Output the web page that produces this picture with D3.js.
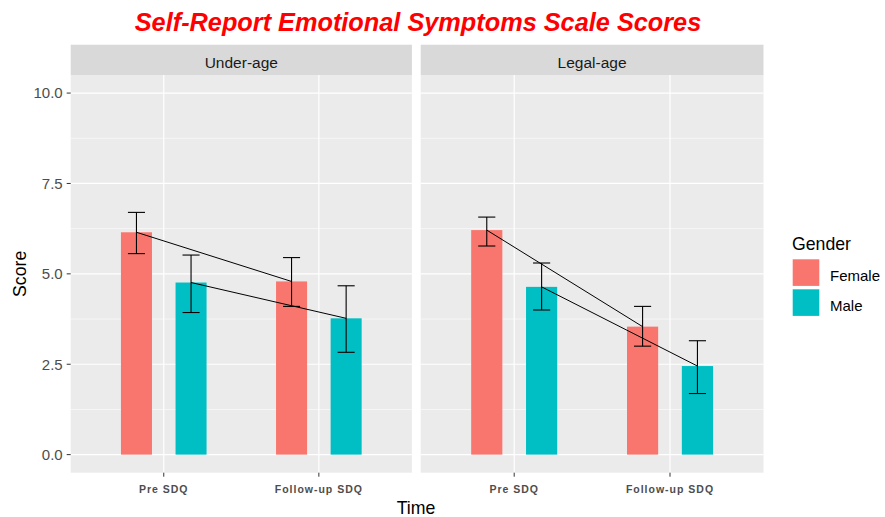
<!DOCTYPE html>
<html>
<head>
<meta charset="utf-8">
<script src="https://cdn.jsdelivr.net/npm/d3@7"></script>
<style>
body { margin: 0; background: #fff; }
svg { display: block; font-family: "Liberation Sans", Arial, sans-serif; }
</style>
</head>
<body>
<svg id="chart" width="885" height="517"></svg>
<script>
// ---- Data ----
const panels = ["Under-age", "Legal-age"];
const times = ["Pre SDQ", "Follow-up SDQ"];
const genders = ["Female", "Male"];
const yTicks = [0, 2.5, 5, 7.5, 10];

const underFemaleMean = [6.15, 4.79];
const underFemaleLow  = [5.56, 4.10];
const underFemaleHigh = [6.70, 5.45];
const underMaleMean   = [4.76, 3.77];
const underMaleLow    = [3.93, 2.83];
const underMaleHigh   = [5.52, 4.67];

const legalFemaleMean = [6.21, 3.54];
const legalFemaleLow  = [5.77, 3.00];
const legalFemaleHigh = [6.57, 4.10];
const legalMaleMean   = [4.64, 2.45];
const legalMaleLow    = [4.00, 1.69];
const legalMaleHigh   = [5.30, 3.15];

const colors = { Female: "#F8766D", Male: "#00BFC4" };

const panelData = {
  "Under-age": {
    Female: { mean: underFemaleMean, low: underFemaleLow, high: underFemaleHigh },
    Male:   { mean: underMaleMean,   low: underMaleLow,   high: underMaleHigh }
  },
  "Legal-age": {
    Female: { mean: legalFemaleMean, low: legalFemaleLow, high: legalFemaleHigh },
    Male:   { mean: legalMaleMean,   low: legalMaleLow,   high: legalMaleHigh }
  }
};

// ---- Layout ----
const svg = d3.select("#chart");
const panelTop = 75, panelBottom = 472.7;
const stripTop = 44.7;
const panelX = [[70.7, 411.9], [420.7, 763.5]];

const y = d3.scaleLinear().domain([-0.5, 10.5]).range([panelBottom, panelTop]);

// title
svg.append("text")
  .attr("x", 418).attr("y", 31)
  .attr("text-anchor", "middle")
  .attr("font-size", 25.3).attr("font-weight", "bold").attr("font-style", "italic")
  .attr("fill", "#FF0000")
  .text("Self-Report Emotional Symptoms Scale Scores");

panels.forEach((p, pi) => {
  const [x0, x1] = panelX[pi];
  const xc = d3.scaleLinear().domain([0.4, 2.6]).range([x0, x1]);
  const dodge = { Female: -0.176, Male: 0.176 };
  const barW = 0.2;
  const capW = 0.11;

  const g = svg.append("g");
  // strip
  g.append("rect").attr("x", x0).attr("y", stripTop)
    .attr("width", x1 - x0).attr("height", panelTop - stripTop)
    .attr("fill", "#D9D9D9");
  g.append("text").attr("x", (x0 + x1) / 2).attr("y", 68)
    .attr("text-anchor", "middle").attr("font-size", 15.5).attr("fill", "#1A1A1A")
    .text(p);
  // background
  g.append("rect").attr("x", x0).attr("y", panelTop)
    .attr("width", x1 - x0).attr("height", panelBottom - panelTop)
    .attr("fill", "#EBEBEB");
  // minor grid
  const minor = [1.25, 3.75, 6.25, 8.75];
  g.selectAll(".minor").data(minor).enter().append("line")
    .attr("x1", x0).attr("x2", x1)
    .attr("y1", d => y(d)).attr("y2", d => y(d))
    .attr("stroke", "#fff").attr("stroke-width", 0.6);
  // major grid
  g.selectAll(".major").data(yTicks).enter().append("line")
    .attr("x1", x0).attr("x2", x1)
    .attr("y1", d => y(d)).attr("y2", d => y(d))
    .attr("stroke", "#fff").attr("stroke-width", 1.2);
  g.selectAll(".vmajor").data(times).enter().append("line")
    .attr("x1", (d, i) => xc(i + 1)).attr("x2", (d, i) => xc(i + 1))
    .attr("y1", panelTop).attr("y2", panelBottom)
    .attr("stroke", "#fff").attr("stroke-width", 1.2);

  // x axis ticks and labels
  times.forEach((t, i) => {
    g.append("line").attr("x1", xc(i + 1)).attr("x2", xc(i + 1))
      .attr("y1", panelBottom).attr("y2", panelBottom + 4)
      .attr("stroke", "#333").attr("stroke-width", 1);
    g.append("text").attr("x", xc(i + 1)).attr("y", panelBottom + 20)
      .attr("text-anchor", "middle").attr("font-size", 10.5).attr("font-weight", "bold")
      .attr("letter-spacing", 1).attr("fill", "#4D4D4D").text(t);
  });

  // bars
  genders.forEach(gen => {
    const d = panelData[p][gen];
    times.forEach((t, i) => {
      const cx = i + 1 + dodge[gen];
      g.append("rect")
        .attr("x", xc(cx - barW / 2)).attr("width", xc(cx + barW / 2) - xc(cx - barW / 2))
        .attr("y", y(d.mean[i])).attr("height", y(0) - y(d.mean[i]))
        .attr("fill", colors[gen]);
    });
  });
  // lines connecting means
  genders.forEach(gen => {
    const d = panelData[p][gen];
    const line = d3.line().x((v, i) => xc(i + 1 + dodge[gen])).y(v => y(v));
    g.append("path").attr("d", line(d.mean))
      .attr("fill", "none").attr("stroke", "#000").attr("stroke-width", 1);
  });
  // error bars
  genders.forEach(gen => {
    const d = panelData[p][gen];
    times.forEach((t, i) => {
      const cx = i + 1 + dodge[gen];
      const eg = g.append("g").attr("stroke", "#000").attr("stroke-width", 1.1);
      eg.append("line").attr("x1", xc(cx)).attr("x2", xc(cx))
        .attr("y1", y(d.low[i])).attr("y2", y(d.high[i]));
      [d.low[i], d.high[i]].forEach(v => {
        eg.append("line").attr("x1", xc(cx - capW / 2)).attr("x2", xc(cx + capW / 2))
          .attr("y1", y(v)).attr("y2", y(v));
      });
    });
  });
});

// y axis (left panel only)
const x0 = panelX[0][0];
yTicks.forEach(v => {
  svg.append("line").attr("x1", x0 - 4).attr("x2", x0)
    .attr("y1", y(v)).attr("y2", y(v))
    .attr("stroke", "#333").attr("stroke-width", 1);
  svg.append("text").attr("x", x0 - 8).attr("y", y(v) + 5.4)
    .attr("text-anchor", "end").attr("font-size", 15).attr("fill", "#4D4D4D")
    .text(d3.format(".1f")(v));
});

// axis titles
svg.append("text").attr("x", 416).attr("y", 514)
  .attr("text-anchor", "middle").attr("font-size", 17.7).attr("fill", "#000").text("Time");
svg.append("text").attr("transform", `translate(26,${(panelTop + panelBottom) / 2}) rotate(-90)`)
  .attr("text-anchor", "middle").attr("font-size", 17.7).attr("fill", "#000").text("Score");

// legend
const lg = svg.append("g");
lg.append("text").attr("x", 792).attr("y", 249.5).attr("font-size", 17.7).attr("fill", "#000").text("Gender");
genders.forEach((gen, i) => {
  lg.append("rect").attr("x", 792.7).attr("y", 259.3 + i * 30)
    .attr("width", 26.6).attr("height", 26.6).attr("fill", colors[gen]);
  lg.append("text").attr("x", 830).attr("y", 259.3 + i * 30 + 21.5)
    .attr("font-size", 15).attr("fill", "#000").text(gen);
});
</script>
</body>
</html>
